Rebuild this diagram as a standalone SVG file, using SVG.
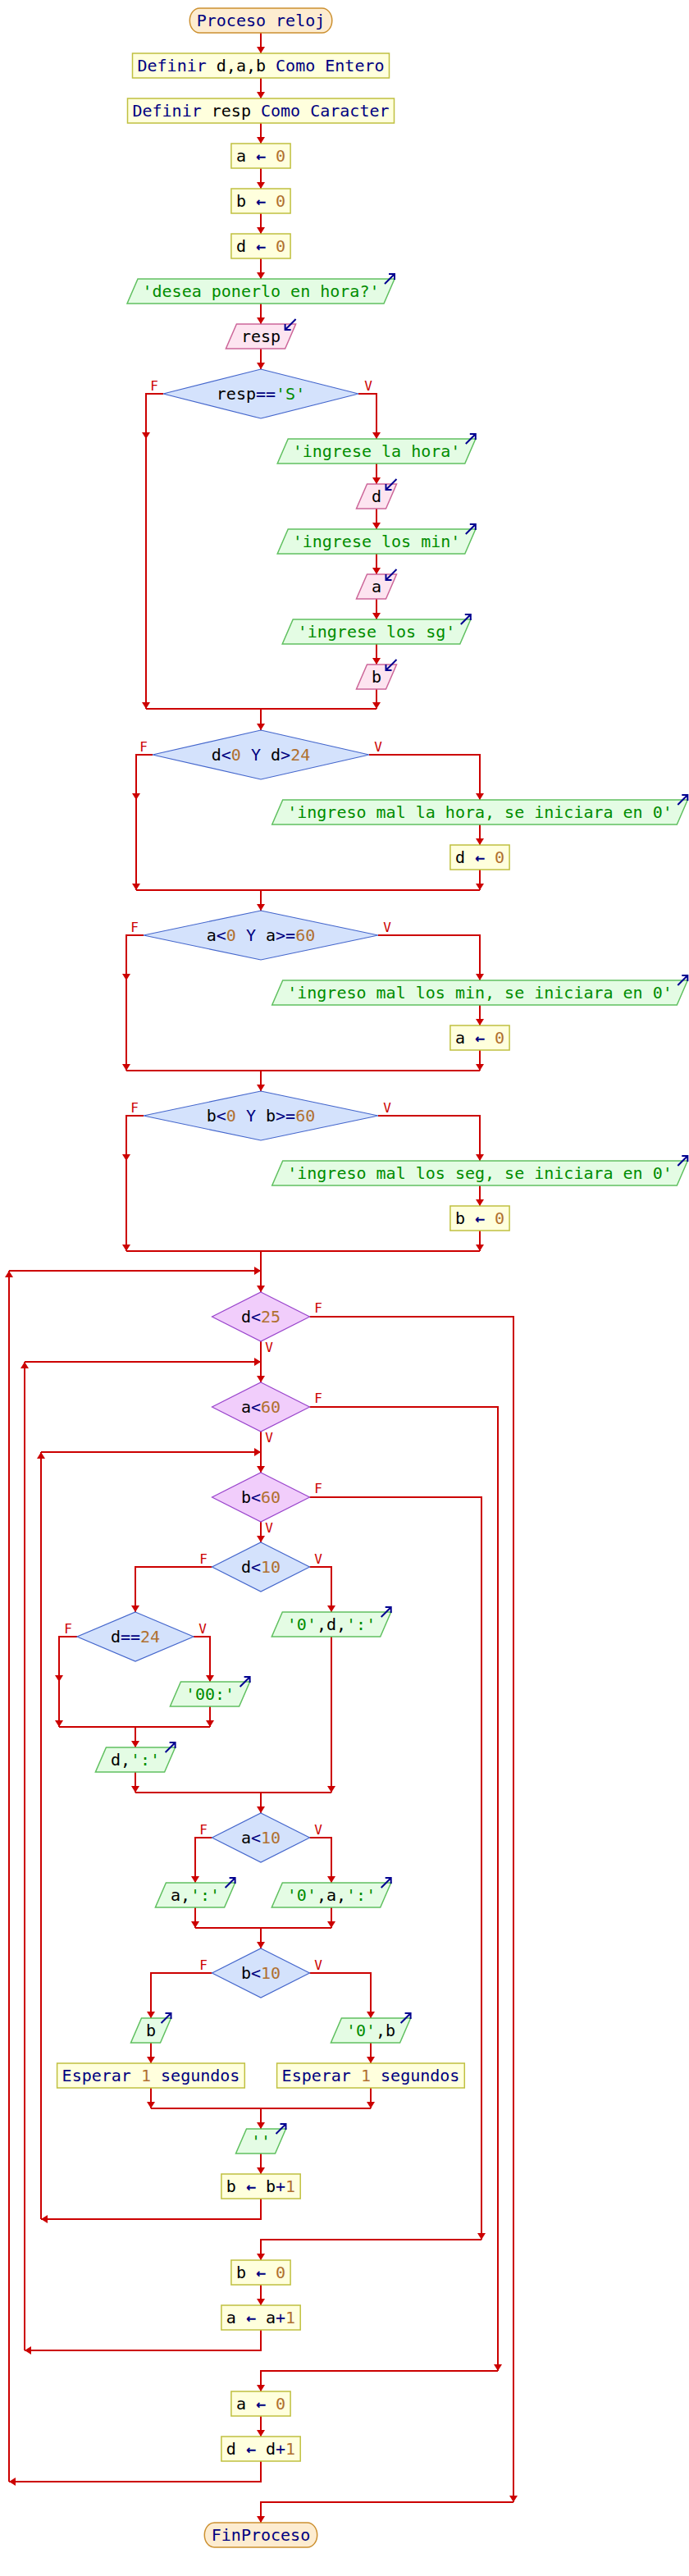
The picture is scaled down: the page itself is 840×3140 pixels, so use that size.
<svg xmlns="http://www.w3.org/2000/svg" width="840" height="3140" viewBox="0 0 840 3140">
<style>
.t{font-family:"DejaVu Sans Mono",monospace;font-size:20px;text-anchor:middle;fill:#000}
.k{fill:#000080}
.ar{fill:#000080;font-weight:bold}
.n{fill:#b07030}
.s{fill:#008c00}
.lbl{font-family:"DejaVu Sans Mono",monospace;font-size:16px;fill:#cc0000;text-anchor:middle}
.term{fill:#fdecd0;stroke:#cc9030;stroke-width:1.5}
.proc{fill:#ffffdd;stroke:#c0c040;stroke-width:1.5}
.out{fill:#e4fce4;stroke:#60c060;stroke-width:1.5}
.in{fill:#fde4f0;stroke:#cc6699;stroke-width:1.5}
.if{fill:#d4e2fc;stroke:#4466cc;stroke-width:1.2}
.wh{fill:#f1cdfb;stroke:#9944cc;stroke-width:1.2}
.ico{fill:none;stroke:#000090;stroke-width:2}
.c{fill:none;stroke:#cc0000;stroke-width:2;marker-end:url(#ah)}
.cl{fill:none;stroke:#cc0000;stroke-width:2}
</style>
<defs>
<marker id="ah" viewBox="0 0 8 10" refX="8" refY="5" markerWidth="8" markerHeight="10" markerUnits="userSpaceOnUse" orient="auto"><path d="M0,0 L8,5 L0,10 z" fill="#cc0000"/></marker>
</defs>
<rect width="840" height="3140" fill="#fff"/>

<g id="connectors">
<path class="c" d="M318,40 V65"/>
<path class="c" d="M318,95 V120"/>
<path class="c" d="M318,150 V175"/>
<path class="c" d="M318,205 V230"/>
<path class="c" d="M318,260 V285"/>
<path class="c" d="M318,315 V340"/>
<path class="c" d="M318,370 V395"/>
<path class="c" d="M318,425 V450"/>
<path class="c" d="M199,480 H178 V535"/>
<path class="c" d="M178,535 V864"/>
<path class="c" d="M437,480 H459 V535"/>
<path class="c" d="M459,565 V590"/>
<path class="c" d="M459,620 V645"/>
<path class="c" d="M459,675 V700"/>
<path class="c" d="M459,730 V755"/>
<path class="c" d="M459,785 V810"/>
<path class="c" d="M459,840 V864"/>
<path class="cl" d="M178,864 H459"/>
<path class="c" d="M318,864 V890"/>
<path class="c" d="M186,920 H166 V975"/>
<path class="c" d="M166,975 V1085"/>
<path class="c" d="M450,920 H585 V975"/>
<path class="c" d="M585,1005 V1030"/>
<path class="c" d="M585,1060 V1085"/>
<path class="cl" d="M166,1085 H585"/>
<path class="c" d="M318,1085 V1110"/>
<path class="c" d="M175,1140 H154 V1195"/>
<path class="c" d="M154,1195 V1305"/>
<path class="c" d="M461,1140 H585 V1195"/>
<path class="c" d="M585,1225 V1250"/>
<path class="c" d="M585,1280 V1305"/>
<path class="cl" d="M154,1305 H585"/>
<path class="c" d="M318,1305 V1330"/>
<path class="c" d="M175,1360 H154 V1415"/>
<path class="c" d="M154,1415 V1525"/>
<path class="c" d="M461,1360 H585 V1415"/>
<path class="c" d="M585,1445 V1470"/>
<path class="c" d="M585,1500 V1525"/>
<path class="cl" d="M154,1525 H585"/>
<path class="c" d="M318,1525 V1575"/>
<path class="c" d="M318,1635 V1685"/>
<path class="c" d="M318,1745 V1795"/>
<path class="c" d="M318,1855 V1880"/>
<path class="c" d="M258.5,1910 H165 V1965"/>
<path class="c" d="M377.5,1910 H404 V1965"/>
<path class="c" d="M404,1995 V2185"/>
<path class="c" d="M94,1995 H72 V2050"/>
<path class="c" d="M72,2050 V2105"/>
<path class="c" d="M236,1995 H256 V2050"/>
<path class="c" d="M256,2080 V2105"/>
<path class="cl" d="M72,2105 H256"/>
<path class="c" d="M165,2105 V2130"/>
<path class="c" d="M165,2160 V2185"/>
<path class="cl" d="M165,2185 H404"/>
<path class="c" d="M318,2185 V2210"/>
<path class="c" d="M258.5,2240 H238 V2295"/>
<path class="c" d="M377.5,2240 H404 V2295"/>
<path class="c" d="M238,2325 V2350"/>
<path class="c" d="M404,2325 V2350"/>
<path class="cl" d="M238,2350 H404"/>
<path class="c" d="M318,2350 V2375"/>
<path class="c" d="M258.5,2405 H184 V2460"/>
<path class="c" d="M377.5,2405 H452 V2460"/>
<path class="c" d="M184,2490 V2515"/>
<path class="c" d="M452,2490 V2515"/>
<path class="c" d="M184,2545 V2570"/>
<path class="c" d="M452,2545 V2570"/>
<path class="cl" d="M184,2570 H452"/>
<path class="c" d="M318,2570 V2595"/>
<path class="c" d="M318,2625 V2650"/>
<path class="c" d="M318,2680 V2705 H50"/>
<path class="c" d="M50,2705 V1770"/>
<path class="c" d="M50,1770 H318"/>
<path class="c" d="M377.5,1825 H587 V2730"/>
<path class="c" d="M587,2730 H318 V2755"/>
<path class="c" d="M318,2785 V2810"/>
<path class="c" d="M318,2840 V2865 H30"/>
<path class="c" d="M30,2865 V1660"/>
<path class="c" d="M30,1660 H318"/>
<path class="c" d="M377.5,1715 H607 V2890"/>
<path class="c" d="M607,2890 H318 V2915"/>
<path class="c" d="M318,2945 V2970"/>
<path class="c" d="M318,3000 V3025 H11"/>
<path class="c" d="M11,3025 V1549"/>
<path class="c" d="M11,1549 H318"/>
<path class="c" d="M377.5,1605 H626 V3050"/>
<path class="c" d="M626,3050 H318 V3075"/>
<text class="lbl" x="188" y="476">F</text><text class="lbl" x="449" y="476">V</text>
<text class="lbl" x="175" y="916">F</text><text class="lbl" x="461" y="916">V</text>
<text class="lbl" x="164" y="1136">F</text><text class="lbl" x="472" y="1136">V</text>
<text class="lbl" x="164" y="1356">F</text><text class="lbl" x="472" y="1356">V</text>
<text class="lbl" x="388" y="1600">F</text><text class="lbl" x="328" y="1648">V</text>
<text class="lbl" x="388" y="1710">F</text><text class="lbl" x="328" y="1758">V</text>
<text class="lbl" x="388" y="1820">F</text><text class="lbl" x="328" y="1868">V</text>
<text class="lbl" x="248" y="1906">F</text><text class="lbl" x="388" y="1906">V</text>
<text class="lbl" x="83" y="1991">F</text><text class="lbl" x="247" y="1991">V</text>
<text class="lbl" x="248" y="2236">F</text><text class="lbl" x="388" y="2236">V</text>
<text class="lbl" x="248" y="2401">F</text><text class="lbl" x="388" y="2401">V</text>
</g>

<g id="n_inicio"><rect class="term" x="231.3" y="10" width="173.5" height="30" rx="12" ry="15"/><text class="t k" x="318" y="32">Proceso reloj</text></g>
<g id="n_def1"><rect class="proc" x="161.5" y="65" width="313" height="30"/><text class="t" x="318" y="87"><tspan class="k">Definir</tspan> d,a,b <tspan class="k">Como Entero</tspan></text></g>
<g id="n_def2"><rect class="proc" x="155.5" y="120" width="325" height="30"/><text class="t" x="318" y="142"><tspan class="k">Definir</tspan> resp <tspan class="k">Como Caracter</tspan></text></g>
<g id="n_a0"><rect class="proc" x="281.9" y="175" width="72.2" height="30"/><text class="t" x="318" y="197">a <tspan class="ar">←</tspan> <tspan class="n">0</tspan></text></g>
<g id="n_b0"><rect class="proc" x="281.9" y="230" width="72.2" height="30"/><text class="t" x="318" y="252">b <tspan class="ar">←</tspan> <tspan class="n">0</tspan></text></g>
<g id="n_d0"><rect class="proc" x="281.9" y="285" width="72.2" height="30"/><text class="t" x="318" y="307">d <tspan class="ar">←</tspan> <tspan class="n">0</tspan></text></g>
<g id="n_out_desea"><polygon class="out" points="168,340 481,340 468,370 155,370"/><path class="ico" d="M469,346 L481,334 M474,334 H481 V341"/><text class="t s" x="318" y="362">'desea ponerlo en hora?'</text></g>
<g id="n_in_resp"><polygon class="in" points="288.4,395 360.6,395 347.6,425 275.4,425"/><path class="ico" d="M360.6,389 L347.6,402 M347.6,395 V402 H354.6"/><text class="t" x="318" y="417">resp</text></g>
<g id="n_if_resp"><polygon class="if" points="318,450 437,480 318,510 199,480"/><text class="t" x="318" y="487">resp<tspan class="k">==</tspan><tspan class="s">'S'</tspan></text></g>
<g id="n_out_hora"><polygon class="out" points="351.2,535 579.8,535 566.8,565 338.2,565"/><path class="ico" d="M567.8,541 L579.8,529 M572.8,529 H579.8 V536"/><text class="t s" x="459" y="557">'ingrese la hora'</text></g>
<g id="n_in_d"><polygon class="in" points="447.5,590 483.5,590 470.5,620 434.5,620"/><path class="ico" d="M483.5,584 L470.5,597 M470.5,590 V597 H477.5"/><text class="t" x="459" y="612">d</text></g>
<g id="n_out_min"><polygon class="out" points="351.2,645 579.8,645 566.8,675 338.2,675"/><path class="ico" d="M567.8,651 L579.8,639 M572.8,639 H579.8 V646"/><text class="t s" x="459" y="667">'ingrese los min'</text></g>
<g id="n_in_a"><polygon class="in" points="447.5,700 483.5,700 470.5,730 434.5,730"/><path class="ico" d="M483.5,694 L470.5,707 M470.5,700 V707 H477.5"/><text class="t" x="459" y="722">a</text></g>
<g id="n_out_sg"><polygon class="out" points="357.2,755 573.8,755 560.8,785 344.2,785"/><path class="ico" d="M561.8,761 L573.8,749 M566.8,749 H573.8 V756"/><text class="t s" x="459" y="777">'ingrese los sg'</text></g>
<g id="n_in_b"><polygon class="in" points="447.5,810 483.5,810 470.5,840 434.5,840"/><path class="ico" d="M483.5,804 L470.5,817 M470.5,810 V817 H477.5"/><text class="t" x="459" y="832">b</text></g>

<g id="n_if_d"><polygon class="if" points="318,890 450,920 318,950 186,920"/><text class="t" x="318" y="927">d<tspan class="k">&lt;</tspan><tspan class="n">0</tspan><tspan class="k"> Y </tspan>d<tspan class="k">&gt;</tspan><tspan class="n">24</tspan></text></g>
<g id="n_out_malhora"><polygon class="out" points="344.7,975 838.3,975 825.3,1005 331.7,1005"/><path class="ico" d="M826.3,981 L838.3,969 M831.3,969 H838.3 V976"/><text class="t s" x="585" y="997">'ingreso mal la hora, se iniciara en 0'</text></g>
<g id="n_d0b"><rect class="proc" x="548.9" y="1030" width="72.2" height="30"/><text class="t" x="585" y="1052">d <tspan class="ar">←</tspan> <tspan class="n">0</tspan></text></g>

<g id="n_if_a"><polygon class="if" points="318,1110 461,1140 318,1170 175,1140"/><text class="t" x="318" y="1147">a<tspan class="k">&lt;</tspan><tspan class="n">0</tspan><tspan class="k"> Y </tspan>a<tspan class="k">&gt;=</tspan><tspan class="n">60</tspan></text></g>
<g id="n_out_malmin"><polygon class="out" points="344.7,1195 838.3,1195 825.3,1225 331.7,1225"/><path class="ico" d="M826.3,1201 L838.3,1189 M831.3,1189 H838.3 V1196"/><text class="t s" x="585" y="1217">'ingreso mal los min, se iniciara en 0'</text></g>
<g id="n_a0b"><rect class="proc" x="548.9" y="1250" width="72.2" height="30"/><text class="t" x="585" y="1272">a <tspan class="ar">←</tspan> <tspan class="n">0</tspan></text></g>

<g id="n_if_b"><polygon class="if" points="318,1330 461,1360 318,1390 175,1360"/><text class="t" x="318" y="1367">b<tspan class="k">&lt;</tspan><tspan class="n">0</tspan><tspan class="k"> Y </tspan>b<tspan class="k">&gt;=</tspan><tspan class="n">60</tspan></text></g>
<g id="n_out_malseg"><polygon class="out" points="344.7,1415 838.3,1415 825.3,1445 331.7,1445"/><path class="ico" d="M826.3,1421 L838.3,1409 M831.3,1409 H838.3 V1416"/><text class="t s" x="585" y="1437">'ingreso mal los seg, se iniciara en 0'</text></g>
<g id="n_b0b"><rect class="proc" x="548.9" y="1470" width="72.2" height="30"/><text class="t" x="585" y="1492">b <tspan class="ar">←</tspan> <tspan class="n">0</tspan></text></g>

<g id="n_wh_d"><polygon class="wh" points="318,1575 377.5,1605 318,1635 258.5,1605"/><text class="t" x="318" y="1612">d<tspan class="k">&lt;</tspan><tspan class="n">25</tspan></text></g>
<g id="n_wh_a"><polygon class="wh" points="318,1685 377.5,1715 318,1745 258.5,1715"/><text class="t" x="318" y="1722">a<tspan class="k">&lt;</tspan><tspan class="n">60</tspan></text></g>
<g id="n_wh_b"><polygon class="wh" points="318,1795 377.5,1825 318,1855 258.5,1825"/><text class="t" x="318" y="1832">b<tspan class="k">&lt;</tspan><tspan class="n">60</tspan></text></g>

<g id="n_if_d10"><polygon class="if" points="318,1880 377.5,1910 318,1940 258.5,1910"/><text class="t" x="318" y="1917">d<tspan class="k">&lt;</tspan><tspan class="n">10</tspan></text></g>
<g id="n_out_0d"><polygon class="out" points="344.3,1965 476.7,1965 463.7,1995 331.3,1995"/><path class="ico" d="M464.7,1971 L476.7,1959 M469.7,1959 H476.7 V1966"/><text class="t" x="404" y="1987"><tspan class="s">'0'</tspan>,d,<tspan class="s">':'</tspan></text></g>
<g id="n_if_d24"><polygon class="if" points="165,1965 236,1995 165,2025 94,1995"/><text class="t" x="165" y="2002">d<tspan class="k">==</tspan><tspan class="n">24</tspan></text></g>
<g id="n_out_00"><polygon class="out" points="220.4,2050 304.6,2050 291.6,2080 207.4,2080"/><path class="ico" d="M292.6,2056 L304.6,2044 M297.6,2044 H304.6 V2051"/><text class="t s" x="256" y="2072">'00:'</text></g>
<g id="n_out_d"><polygon class="out" points="129.4,2130 213.6,2130 200.6,2160 116.4,2160"/><path class="ico" d="M201.6,2136 L213.6,2124 M206.6,2124 H213.6 V2131"/><text class="t" x="165" y="2152">d,<tspan class="s">':'</tspan></text></g>

<g id="n_if_a10"><polygon class="if" points="318,2210 377.5,2240 318,2270 258.5,2240"/><text class="t" x="318" y="2247">a<tspan class="k">&lt;</tspan><tspan class="n">10</tspan></text></g>
<g id="n_out_a"><polygon class="out" points="202.4,2295 286.6,2295 273.6,2325 189.4,2325"/><path class="ico" d="M274.6,2301 L286.6,2289 M279.6,2289 H286.6 V2296"/><text class="t" x="238" y="2317">a,<tspan class="s">':'</tspan></text></g>
<g id="n_out_0a"><polygon class="out" points="344.3,2295 476.7,2295 463.7,2325 331.3,2325"/><path class="ico" d="M464.7,2301 L476.7,2289 M469.7,2289 H476.7 V2296"/><text class="t" x="404" y="2317"><tspan class="s">'0'</tspan>,a,<tspan class="s">':'</tspan></text></g>

<g id="n_if_b10"><polygon class="if" points="318,2375 377.5,2405 318,2435 258.5,2405"/><text class="t" x="318" y="2412">b<tspan class="k">&lt;</tspan><tspan class="n">10</tspan></text></g>
<g id="n_out_b"><polygon class="out" points="172.5,2460 208.5,2460 195.5,2490 159.5,2490"/><path class="ico" d="M196.5,2466 L208.5,2454 M201.5,2454 H208.5 V2461"/><text class="t" x="184" y="2482">b</text></g>
<g id="n_out_0b"><polygon class="out" points="416.4,2460 500.6,2460 487.6,2490 403.4,2490"/><path class="ico" d="M488.6,2466 L500.6,2454 M493.6,2454 H500.6 V2461"/><text class="t" x="452" y="2482"><tspan class="s">'0'</tspan>,b</text></g>
<g id="n_esp1"><rect class="proc" x="69.6" y="2515" width="228.7" height="30"/><text class="t" x="184" y="2537"><tspan class="k">Esperar</tspan> <tspan class="n">1</tspan> <tspan class="k">segundos</tspan></text></g>
<g id="n_esp2"><rect class="proc" x="337.6" y="2515" width="228.7" height="30"/><text class="t" x="452" y="2537"><tspan class="k">Esperar</tspan> <tspan class="n">1</tspan> <tspan class="k">segundos</tspan></text></g>
<g id="n_out_empty"><polygon class="out" points="300.5,2595 348.5,2595 335.5,2625 287.5,2625"/><path class="ico" d="M336.5,2601 L348.5,2589 M341.5,2589 H348.5 V2596"/><text class="t s" x="318" y="2617">''</text></g>
<g id="n_binc"><rect class="proc" x="269.9" y="2650" width="96.3" height="30"/><text class="t" x="318" y="2672">b <tspan class="ar">←</tspan> b<tspan class="k">+</tspan><tspan class="n">1</tspan></text></g>
<g id="n_b0c"><rect class="proc" x="281.9" y="2755" width="72.2" height="30"/><text class="t" x="318" y="2777">b <tspan class="ar">←</tspan> <tspan class="n">0</tspan></text></g>
<g id="n_ainc"><rect class="proc" x="269.9" y="2810" width="96.3" height="30"/><text class="t" x="318" y="2832">a <tspan class="ar">←</tspan> a<tspan class="k">+</tspan><tspan class="n">1</tspan></text></g>
<g id="n_a0c"><rect class="proc" x="281.9" y="2915" width="72.2" height="30"/><text class="t" x="318" y="2937">a <tspan class="ar">←</tspan> <tspan class="n">0</tspan></text></g>
<g id="n_dinc"><rect class="proc" x="269.9" y="2970" width="96.3" height="30"/><text class="t" x="318" y="2992">d <tspan class="ar">←</tspan> d<tspan class="k">+</tspan><tspan class="n">1</tspan></text></g>
<g id="n_fin"><rect class="term" x="249.3" y="3075" width="137.4" height="30" rx="12" ry="15"/><text class="t k" x="318" y="3097">FinProceso</text></g>
</svg>
